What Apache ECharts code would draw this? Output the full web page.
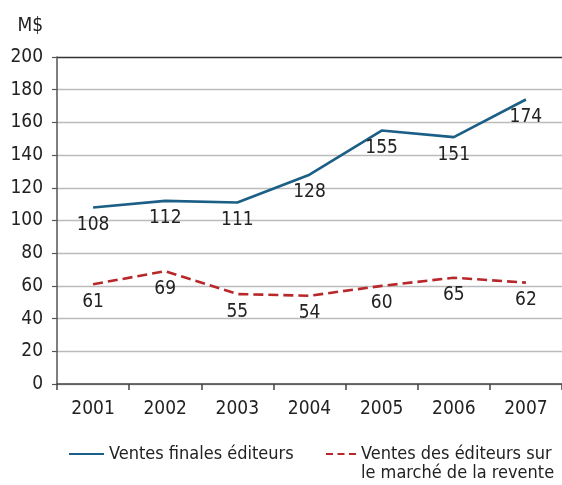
<!DOCTYPE html>
<html><head><meta charset="utf-8">
<script src="https://cdn.jsdelivr.net/npm/echarts@6/dist/echarts.min.js"></script>
<style>html,body{margin:0;padding:0;background:#fff}#c{width:562px;height:485px}</style>
</head><body><div id="c"></div>
<script>
const categories = ['2001','2002','2003','2004','2005','2006','2007'];
const ventesFinales = [108,112,111,128,155,151,174];
const ventesRevente = [61,69,55,54,60,65,62];
const seriesNames = ['Ventes finales éditeurs', 'Ventes des éditeurs sur'];
const legendSecondLine = 'le marché de la revente';
const yTicks = {min:0, max:200, interval:20};
const FF = "'DejaVu Sans Condensed', 'DejaVu Sans', sans-serif";
const chart = echarts.init(document.getElementById('c'));
chart.setOption({
  animation:false,
  textStyle:{fontFamily:FF},
  grid:{left:57, right:0, top:57, bottom:101},
  xAxis:{type:'category', data:categories, boundaryGap:true,
    axisLine:{lineStyle:{color:'#444', width:1.5}},
    axisTick:{show:true, length:6, lineStyle:{color:'#444', width:1.5}},
    axisLabel:{color:'#222', fontSize:19, fontFamily:FF, margin:16}},
  yAxis:{type:'value', min:yTicks.min, max:yTicks.max, interval:yTicks.interval,
    name:'M$', nameLocation:'end', nameGap:21,
    nameTextStyle:{color:'#222', fontSize:19, fontFamily:FF, align:'right', padding:[0,14,0,0]},
    axisLine:{show:true, lineStyle:{color:'#555', width:1.5}},
    axisTick:{show:true, length:5, lineStyle:{color:'#555', width:1.2}},
    axisLabel:{color:'#222', fontSize:19, fontFamily:FF, margin:14},
    splitLine:{show:true, lineStyle:{color:['#bbb','#bbb','#bbb','#bbb','#bbb','#bbb','#bbb','#bbb','#bbb','#bbb','#333'], width:1.3}}},
  legend:[
    {data:[seriesNames[0]], left:63, top:440, itemWidth:35, itemHeight:14,
      itemStyle:{opacity:0},
      textStyle:{color:'#222', fontSize:18, fontFamily:FF}},
    {data:[seriesNames[1]], left:320, top:440, itemWidth:30, itemHeight:14,
      itemStyle:{opacity:0}, lineStyle:{type:[7,4.5]},
      textStyle:{color:'#222', fontSize:18, fontFamily:FF}}
  ],
  graphic:[
    {type:'text', left:361, top:464, style:{text:legendSecondLine, fill:'#222', fontSize:18, fontFamily:FF}}
  ],
  series:[
    {name:seriesNames[0], type:'line', data:ventesFinales, symbol:'circle', symbolSize:0.1,
      lineStyle:{color:'#1b5f86', width:2.6}, itemStyle:{color:'#1b5f86'},
      label:{show:true, position:'bottom', distance:8, color:'#222', fontSize:19, fontFamily:FF}},
    {name:seriesNames[1], type:'line', data:ventesRevente, symbol:'circle', symbolSize:0.1,
      lineStyle:{color:'#b8282a', width:2.6, type:[10,5]}, itemStyle:{color:'#b8282a'},
      label:{show:true, position:'bottom', distance:8, color:'#222', fontSize:19, fontFamily:FF}}
  ]
});
</script></body></html>
